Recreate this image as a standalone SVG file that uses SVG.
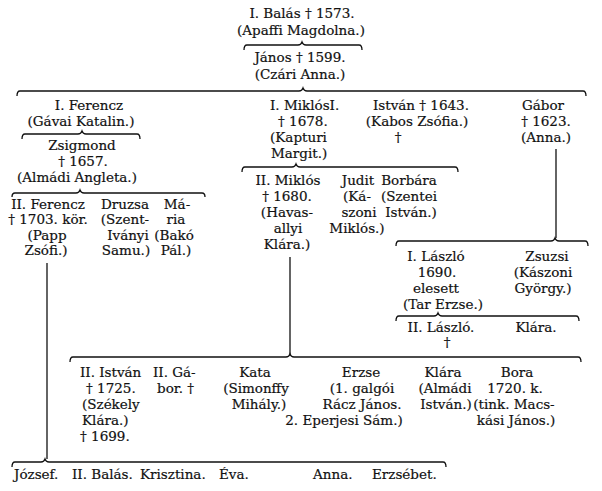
<svg xmlns="http://www.w3.org/2000/svg" width="602" height="491" viewBox="0 0 602 491">
<style>
text{font-family:"DejaVu Serif","Liberation Serif",serif;font-size:13.5px;fill:#111;stroke:#111;stroke-width:0.2;text-anchor:middle}
text.s{text-anchor:start}
.br{fill:none;stroke:#111;stroke-width:1.3}
</style>
<rect width="602" height="491" fill="#fff"/>
<g id="connectors">
<path class="br" d="M244,50 Q244,45 247,45 L298,45 Q301,45 302,42 Q303,45 306,45 L359,45 Q362,45 362,50"/>
<path class="br" d="M17,96 Q17,91 20,91 L299,91 Q302,91 303,88 Q304,91 307,91 L583,91 Q586,91 586,96"/>
<path class="br" d="M22,139 Q22,134 25,134 L78,134 Q81,134 82,131 Q83,134 86,134 L137,134 Q140,134 140,139"/>
<path class="br" d="M12,197 Q12,193 15,193 L76,193 Q79,193 80,190 Q81,193 84,193 L202,193 Q205,193 205,197"/>
<path class="br" d="M242,172 Q242,167 245,167 L292,167 Q295,167 296,164 Q297,167 300,167 L455,167 Q458,167 458,172"/>
<path class="br" d="M556,149 L556,238"/>
<path class="br" d="M396,246 Q396,241 399,241 L551,241 Q554,241 555,238 Q556,241 559,241 L585,241 Q588,241 588,246"/>
<path class="br" d="M396,321 Q396,316 399,316 L434,316 Q437,316 438,313 Q439,316 442,316 L576,316 Q579,316 579,321"/>
<path class="br" d="M290,257 L290,354"/>
<path class="br" d="M70,362 Q70,357 73,357 L286,357 Q289,357 290,354 Q291,357 294,357 L578,357 Q581,357 581,362"/>
<path class="br" d="M47,263 L47,459"/>
<path class="br" d="M12,467 Q12,462 15,462 L41,462 Q44,462 45,459 Q46,462 49,462 L443,462 Q446,462 446,467"/>
</g>
<g id="n-balas"><text x="302" y="18">I. Balás † 1573.</text><text x="301" y="35">(Apaffi Magdolna.)</text></g>
<g id="n-janos"><text x="300" y="62">János † 1599.</text><text x="300" y="79">(Czári Anna.)</text></g>
<g id="n-ferencz1"><text x="89" y="110">I. Ferencz</text><text x="81" y="126">(Gávai Katalin.)</text></g>
<g id="n-miklos1"><text class="s" x="270" y="110">I. MiklósI.</text><text class="s" x="278" y="126">† 1678.</text><text class="s" x="270" y="142">(Kapturi</text><text class="s" x="271" y="158">Margit.)</text></g>
<g id="n-istvan1"><text x="421" y="110">István † 1643.</text><text x="417" y="126">(Kabos Zsófia.)</text><text x="398" y="142">†</text></g>
<g id="n-gabor1"><text x="543" y="110">Gábor</text><text x="546" y="126">† 1623.</text><text x="546" y="142">(Anna.)</text></g>
<g id="n-zsigmond"><text x="82" y="150">Zsigmond</text><text x="83" y="166">† 1657.</text><text x="77" y="182">(Almádi Angleta.)</text></g>
<g id="n-ferencz2"><text x="48" y="209">II. Ferencz</text><text x="48" y="224">† 1703. kör.</text><text x="47" y="240">(Papp</text><text x="46" y="255">Zsófi.)</text></g>
<g id="n-druzsa"><text x="125" y="209">Druzsa</text><text x="125" y="224">(Szent-</text><text x="128" y="240">Iványi</text><text x="126" y="255">Samu.)</text></g>
<g id="n-maria"><text x="177" y="209">Má-</text><text x="176" y="224">ria</text><text x="174" y="240">(Bakó</text><text x="176" y="255">Pál.)</text></g>
<g id="n-miklos2"><text x="288" y="185">II. Miklós</text><text x="287" y="201">† 1680.</text><text x="287" y="217">(Havas-</text><text x="288" y="233">allyi</text><text x="287" y="249">Klára.)</text></g>
<g id="n-judit"><text x="358" y="185">Judit</text><text x="357" y="201">(Ká-</text><text x="359" y="217">szoni</text><text x="357" y="233">Miklós.)</text></g>
<g id="n-borbara"><text x="409" y="185">Borbára</text><text x="409" y="201">(Szentei</text><text x="411" y="217">István.)</text></g>
<g id="n-laszlo1"><text x="436" y="261">I. László</text><text x="437" y="277">1690.</text><text x="436" y="293">elesett</text><text x="443" y="309">(Tar Erzse.)</text></g>
<g id="n-zsuzsi"><text x="547" y="261">Zsuzsi</text><text x="543" y="277">(Kászoni</text><text x="543" y="293">György.)</text></g>
<g id="n-laszlo2"><text x="441" y="332">II. László.</text><text x="447" y="347">†</text></g>
<g id="n-klara1"><text x="536" y="332">Klára.</text></g>
<g id="n-istvan2"><text class="s" x="80" y="377">II. István</text><text class="s" x="86" y="393">† 1725.</text><text class="s" x="82" y="409">(Székely</text><text class="s" x="82" y="425">Klára.)</text><text class="s" x="80" y="441">† 1699.</text></g>
<g id="n-gabor2"><text class="s" x="153" y="377">II. Gá-</text><text class="s" x="157" y="393">bor. †</text></g>
<g id="n-kata"><text x="255" y="377">Kata</text><text x="256" y="393">(Simonffy</text><text x="259" y="409">Mihály.)</text></g>
<g id="n-erzse"><text x="361" y="377">Erzse</text><text x="362" y="393">(1. galgói</text><text x="362" y="409">Rácz János.</text><text x="344" y="425">2. Eperjesi Sám.)</text></g>
<g id="n-klara2"><text x="443" y="377">Klára</text><text x="445" y="393">(Almádi</text><text x="446" y="409">István.)</text></g>
<g id="n-bora"><text x="517" y="377">Bora</text><text x="515" y="393">1720. k.</text><text x="514" y="409">(tink. Macs-</text><text x="516" y="425">kási János.)</text></g>
<g id="n-jozsef"><text class="s" x="14" y="479">József.</text></g>
<g id="n-balas2"><text class="s" x="72" y="479">II. Balás.</text></g>
<g id="n-krisztina"><text class="s" x="140" y="479">Krisztina.</text></g>
<g id="n-eva"><text class="s" x="219" y="479">Éva.</text></g>
<g id="n-anna"><text class="s" x="313" y="479">Anna.</text></g>
<g id="n-erzsebet"><text class="s" x="372" y="479">Erzsébet.</text></g>
</svg>
